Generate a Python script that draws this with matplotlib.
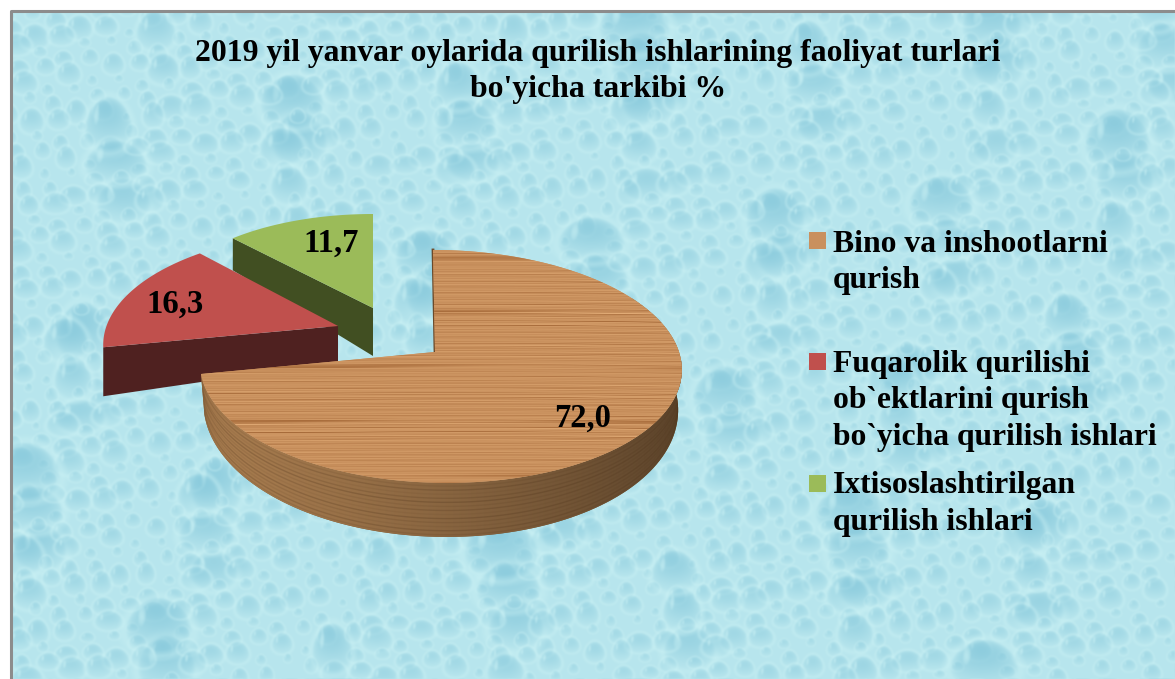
import numpy as np
import matplotlib
matplotlib.use("Agg")
import matplotlib.pyplot as plt
from matplotlib.patches import Polygon, Rectangle

# ---- data ----
title_lines = ["2019 yil yanvar oylarida qurilish ishlarining faoliyat turlari",
               "bo'yicha tarkibi %"]
categories = ["Bino va inshootlarni\nqurish",
              "Fuqarolik qurilishi\nob`ektlarini qurish\nbo`yicha qurilish ishlari",
              "Ixtisoslashtirilgan\nqurilish ishlari"]
values = [72.0, 16.3, 11.7]

# ---- style / layout ----
W, H = 1175, 679
SERIF = "Liberation Serif"
top_colors = ["#C9905E", "#C0504D", "#9BBB59"]
side_colors = ["#7A5833", "#4F2120", "#414F22"]
# per-slice 3D projection: hub x,y / radius / y-scale / perspective / shear / rim shift / depth a,b,c / bottom-rim scale
geom = [
    dict(hx=435, hy=352, R=239, k=114.7, p=0.124, shear=-7, shift=5, a=38, b=16, c=0, sc=0.985),
    dict(hx=338, hy=326, R=231.5, k=110, p=0.167, shear=0, shift=0, a=36, b=0, c=13, sc=1.0),
    dict(hx=373, hy=308, R=209, k=94, p=0.0, shear=0, shift=0, a=48, b=0, c=-16, sc=1.0),
]
label_xy = [(583, 418), (175, 304), (331, 243)]
legend_x, legend_text_x = 809, 833
legend_marker_y = [232, 353, 475]
legend_baselines = [[252, 288], [372, 408, 445], [493, 530]]
title_baselines = [61, 97]
title_cx = 598

fig = plt.figure(figsize=(W / 100, H / 100), dpi=100, facecolor="white")
ax = fig.add_axes([0, 0, 1, 1])
ax.set_xlim(0, W)
ax.set_ylim(H, 0)
ax.axis("off")


# ---- water-drop backdrop (decorative, low-discrepancy placement) ----
def backdrop():
    base = np.array([0.72, 0.90, 0.93])
    dark = np.array([0.50, 0.77, 0.85])
    lite = np.array([0.80, 0.95, 0.96])
    img = np.ones((H, W, 3)) * base
    for i in range(1, 1900):
        cx = (i * 0.7548776662) % 1 * W
        cy = (i * 0.5698402910) % 1 * H
        z = (i * 0.3819660113) % 1
        rad = 4 + 9 * z if z < 0.94 else 16 + 220 * (z - 0.94)
        a, b = rad * (0.9 + 0.5 * ((i * 0.271) % 1)), rad * (0.85 + 0.25 * ((i * 0.413) % 1))
        m = 1.25
        x0, x1 = int(max(cx - a * m, 0)), int(min(cx + a * m + 1, W))
        y0, y1 = int(max(cy - b * m, 0)), int(min(cy + b * m + 1, H))
        if x1 <= x0 or y1 <= y0:
            continue
        yy, xx = np.mgrid[y0:y1, x0:x1]
        v = (yy - cy) / b
        u = (xx - cx) / (a * np.clip(0.92 + 0.14 * v, 0.7, 1.1))
        r2 = u * u + v * v
        shade = np.clip(1 - r2, 0, 1) ** 0.6 * np.clip(0.62 - 0.55 * v, 0, 1) * (r2 < 1)
        rim = np.clip(1 - np.abs(np.sqrt(r2) - 1.08) / 0.22, 0, 1) * 0.38
        hl = np.clip(1 - (((u + 0.55) / 0.14) ** 2 + ((v + 0.35) / 0.4) ** 2), 0, 1) * 0.55
        sub = img[y0:y1, x0:x1]
        strength = 0.28 + 0.6 * min(rad / 30, 1)
        sub += (lite - sub) * rim[..., None]
        sub += (dark - sub) * (shade * strength)[..., None]
        sub += (lite - sub) * hl[..., None]
    # soft blur, as in the resampled bitmap of the reference
    for axis in (0, 1):
        img = (np.roll(img, 1, axis) + img * 2 + np.roll(img, -1, axis)) / 4
    return np.clip(img, 0, 1)


ax.imshow(backdrop(), extent=(0, W, H, 0), aspect="auto", zorder=0, interpolation="bilinear")
ax.set_xlim(0, W)
ax.set_ylim(H, 0)
ax.add_patch(Rectangle((0, 0), W, 10.5, fc="white", ec="none", zorder=1))
ax.add_patch(Rectangle((0, 0), 10.5, H, fc="white", ec="none", zorder=1))
ax.plot([11, 11, W], [H, 11, 11], color="#8C8C8C", lw=2.2, zorder=2, solid_capstyle="butt")


# ---- wood ----
def wood(shape):
    h, w = shape
    yy, xx = np.mgrid[0:h, 0:w]
    wob = 1.1 * np.sin(xx / 210.0) + 0.5 * np.sin(xx / 77.0 + 1.3)
    y = yy + wob
    fine = (np.sin(y * 2.713) + 0.8 * np.sin(y * 1.127 + 0.7) + 0.7 * np.sin(y * 4.19 + 2.1)
            + 0.5 * np.sin(y * 1.73 + xx * 0.012))
    env = 0.5 + 0.5 * np.abs(np.sin(y * 0.083 + 0.4) * np.sin(y * 0.031 + 1.1))
    patch = 0.75 + 0.25 * np.sin(xx * 0.019 + y * 0.6) * np.sin(xx * 0.0071 + 0.5)
    streak = np.clip(np.sin(y * 0.173 + 0.9) * np.sin(y * 0.29 + 2.0) - 0.6, 0, 1) * 1.3
    fade = np.clip(0.5 + 0.7 * np.sin(xx * 0.013 + y * 0.37), 0, 1)
    return np.clip(fine / 3.0 * env * patch - streak * fade, -1, 1)


def wood_rgb(shape):
    g = wood(shape)[..., None]
    mid = np.array([0.79, 0.57, 0.37])
    lo = np.array([0.62, 0.38, 0.19])
    hi = np.array([0.90, 0.69, 0.48])
    return mid + np.where(g < 0, -g, 0) * (lo - mid) + np.where(g > 0, g, 0) * (hi - mid)


# ---- projection of the tilted pie ----
def project(g, radius, theta):
    X, Y = radius * np.sin(theta), radius * np.cos(theta)
    s = 1 / (1 + g["p"] * Y)
    x = g["hx"] + radius * g["shift"] + g["shear"] * Y + g["R"] * X * s
    y = g["hy"] - g["k"] * Y * s
    return x, y, Y


def bottom(g, radius, theta):
    x, y, Y = project(g, radius, theta)
    x = g["hx"] + (x - g["hx"]) * g["sc"]
    return x, y + g["a"] + g["b"] * (-Y) + g["c"] * radius


angles = np.cumsum([0.0] + values) / sum(values) * 2 * np.pi
slices = [(i, angles[i], angles[i + 1]) for i in range(len(values))]

for i, a0, a1 in slices[::-1]:
    g = geom[i]
    zb = {2: 3, 1: 4, 0: 5}[i] * 2
    th = np.linspace(a0, a1, 160)
    tx, ty, _ = project(g, 1.0, th)
    bx, by = bottom(g, 1.0, th)
    if i == 0:
        # outer curved wall of the main slice
        vis = th > np.radians(60)
        wall = np.column_stack([np.r_[tx[vis], bx[vis][::-1]], np.r_[ty[vis], by[vis][::-1]]])
        p = Polygon(wall, closed=True, fc=side_colors[0], ec="none", zorder=zb)
        ax.add_patch(p)
        gx = np.linspace(0, 1, 300)[None, :]
        shade = 0.66 - 0.30 * gx ** 1.3
        col = np.dstack([shade, shade * 0.74, shade * 0.47])
        im = ax.imshow(col, extent=(195, 685, 545, 360), aspect="auto", zorder=zb + 0.1)
        im.set_clip_path(p)
        for t, dk in zip(np.linspace(0.06, 0.96, 13),
                         [.3, .6, .2, .5, .7, .3, .55, .2, .65, .4, .25, .6, .35]):
            ln, = ax.plot(tx[vis] + (bx[vis] - tx[vis]) * t, ty[vis] + (by[vis] - ty[vis]) * t,
                          color="#4A2F17", alpha=dk * 0.35, lw=1.0, zorder=zb + 0.2)
            ln.set_clip_path(p)
        hx, hy, _ = project(g, 0.0, a0)
        ax.plot([tx[0], hx], [ty[0], hy], color="#6B4A2A", lw=2.0, zorder=zb)
    else:
        # straight cut face that points to the viewer
        ox, oy, _ = project(g, 1.0, a0)
        obx, oby = bottom(g, 1.0, a0)
        hx, hy, _ = project(g, 0.0, a0)
        hbx, hby = bottom(g, 0.0, a0)
        face = [(ox, oy), (hx, hy), (hbx, hby), (obx, oby)]
        ax.add_patch(Polygon(face, closed=True, fc=side_colors[i], ec="none", zorder=zb))
    hx, hy, _ = project(g, 0.0, a0)
    pts = np.column_stack([np.r_[hx, tx], np.r_[hy, ty]])
    top = Polygon(pts, closed=True, fc=top_colors[i], ec="none", zorder=zb + 1)
    ax.add_patch(top)
    if i == 0:
        im = ax.imshow(wood_rgb((H, W)), extent=(0, W, H, 0), aspect="auto",
                       zorder=zb + 1.1, interpolation="bilinear")
        im.set_clip_path(top)

ax.set_xlim(0, W)
ax.set_ylim(H, 0)

# ---- text ----
for line, yb in zip(title_lines, title_baselines):
    ax.text(title_cx, yb, line, family=SERIF, weight="bold", fontsize=22.9,
            ha="center", va="baseline", color="black", zorder=30)

for v, (x, y) in zip(values, label_xy):
    ax.text(x, y, f"{v:.1f}".replace(".", ","), family=SERIF, weight="bold", fontsize=23.5,
            ha="center", va="center", color="black", zorder=30)

for cat, color, my, bases in zip(categories, top_colors, legend_marker_y, legend_baselines):
    ax.add_patch(Rectangle((legend_x, my), 17, 17, fc=color, ec="none", zorder=30))
    for line, yb in zip(cat.split("\n"), bases):
        ax.text(legend_text_x, yb, line, family=SERIF, weight="bold", fontsize=22.8,
                ha="left", va="baseline", color="black", zorder=30)

fig.savefig("out.png", dpi=100)
